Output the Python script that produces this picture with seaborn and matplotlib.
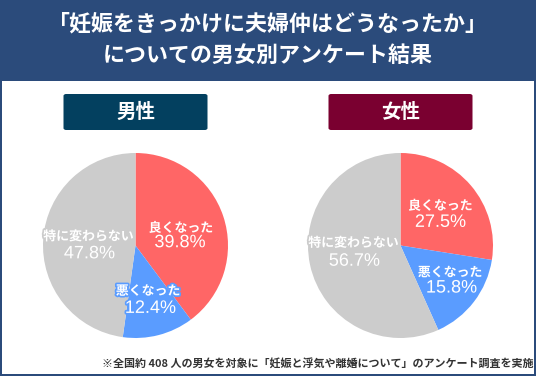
import matplotlib
matplotlib.use("Agg")
import matplotlib.pyplot as plt
import matplotlib.patheffects as pe
import seaborn as sns
from matplotlib.patches import Rectangle, FancyBboxPatch

sns.set_style("white")
plt.rcParams['font.family'] = ['Noto Sans CJK JP', 'DejaVu Sans']

# data
categories = ["良くなった", "悪くなった", "特に変わらない"]
male_values = [39.8, 12.4, 47.8]
female_values = [27.5, 15.8, 56.7]
colors = ["#ff6666", "#5a9cff", "#cccccc"]

title = "「妊娠をきっかけに夫婦仲はどうなったか」\nについての男女別アンケート結果"
note = "※全国約 408 人の男女を対象に「妊娠と浮気や離婚について」のアンケート調査を実施"

W, H = 536, 376
fig = plt.figure(figsize=(W / 100, H / 100), dpi=100)
fig.patch.set_facecolor("#2b4b7b")

# white body inside the frame
fig.patches.append(Rectangle((2 / W, 2 / H), (W - 4) / W, (H - 2 - 81) / H,
                             transform=fig.transFigure, facecolor="white",
                             edgecolor="none", zorder=-5))

fig.text(0.5, 1 - 40 / H, title, ha="center", va="center", color="white",
         fontsize=15.8, fontweight="bold", linespacing=1.45)


def panel(cx, values, header, header_color, label_pos):
    # header box
    bw, bh = 144, 36
    fig.patches.append(FancyBboxPatch(((cx - bw / 2) / W, (H - 130) / H), bw / W, bh / H,
                                      boxstyle="round,pad=0,rounding_size=0.005",
                                      transform=fig.transFigure,
                                      facecolor=header_color, edgecolor="none",
                                      zorder=-4))
    fig.text(cx / W, (H - 112) / H, header, ha="center", va="center",
             color="white", fontsize=14, fontweight="bold")

    r = 92.5
    ax = fig.add_axes([(cx - r) / W, (H - 245.5 - r) / H, 2 * r / W, 2 * r / H])
    ax.set_zorder(5)
    ax.patch.set_alpha(0)
    ax.pie(values, colors=colors, startangle=90, counterclock=False,
           wedgeprops=dict(linewidth=0))
    ax.set_xlim(-1, 1)
    ax.set_ylim(-1, 1)
    ax.set_aspect("equal")
    ax.axis("off")
    for cat, val, col, (lx, ly, px, py) in zip(categories, values, colors, label_pos):
        fx = [pe.withStroke(linewidth=2.5, foreground=col)]
        ax.text(lx, ly, cat, ha="center", va="center", color="white",
                fontsize=9.3, fontweight="bold", path_effects=fx)
        ax.text(px, py, f"{val}%", ha="center", va="center", color="white",
                fontsize=13, path_effects=fx, family="Liberation Sans")


panel(135.5, male_values, "男性", "#03405f",
      [(0.49, 0.19, 0.48, 0.03), (0.135, -0.49, 0.16, -0.68), (-0.51, 0.10, -0.50, -0.09)])
panel(400.5, female_values, "女性", "#7a0030",
      [(0.43, 0.43, 0.43, 0.25), (0.535, -0.29, 0.55, -0.46), (-0.51, 0.03, -0.50, -0.17)])

fig.text(533 / W, 13 / H, note, ha="right", va="center", color="#333333",
         fontsize=7.95, fontweight="bold")

fig.savefig("out.png", dpi=100, facecolor=fig.get_facecolor())
